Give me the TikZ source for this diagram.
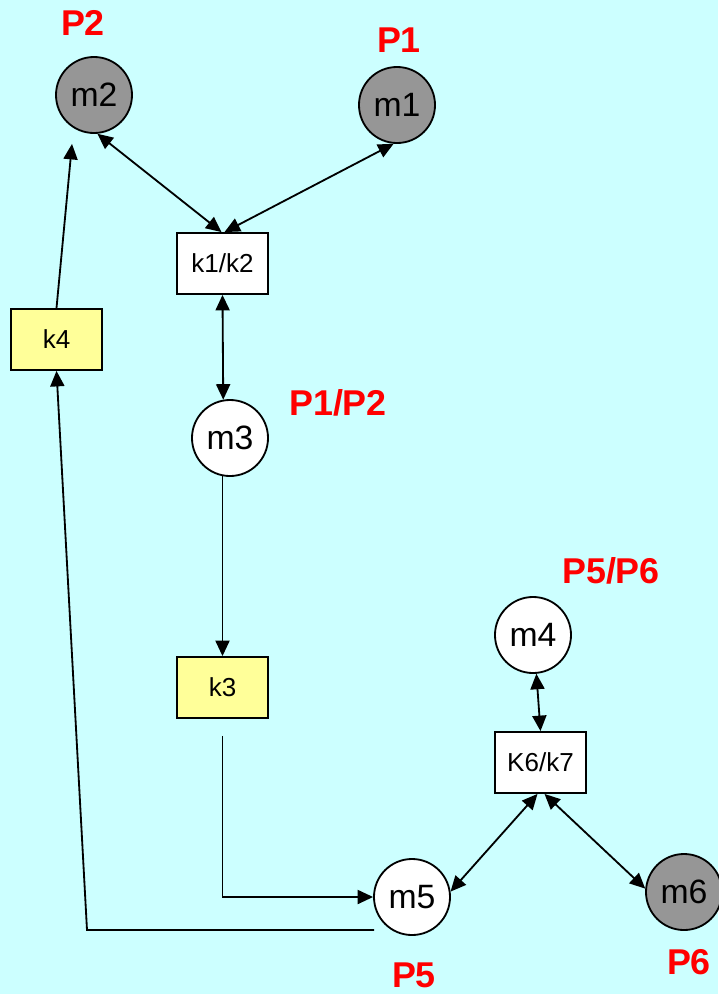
\documentclass[tikz,border=0pt]{standalone}
\usepackage{fontspec}
\setmainfont{Liberation Sans}
\usepackage[dvipsnames]{xcolor}
\usetikzlibrary{arrows.meta, calc}
\definecolor{bgcyan}{HTML}{CCFFFF}
\definecolor{placegray}{HTML}{969696}
\definecolor{boxyellow}{HTML}{FFFF99}

\begin{document}
\begin{tikzpicture}[x=0.025cm, y=-0.025cm, line width=1.3pt,
    >={Triangle[length=11pt, width=10pt]},
    place/.style={circle, draw=black, fill=white, minimum size=1.9cm, inner sep=0pt,
        font=\fontsize{24}{28}\selectfont},
    filled/.style={place, fill=placegray},
    trans/.style={rectangle, draw=black, fill=white, minimum width=2.275cm,
        minimum height=1.525cm, inner sep=0pt, font=\fontsize{18.5}{22}\selectfont},
    yellowtrans/.style={trans, fill=boxyellow},
    tag/.style={text=red, font=\fontsize{25.5}{30}\selectfont\bfseries}]
    \fill[bgcyan] (0,0) rectangle (718,994);
    \useasboundingbox (0,0) rectangle (718,994);
    \node[filled] (m2) at (94,95) {m2};
    \node[filled] (m1) at (397,105) {m1};
    \node[trans] (k12) at (222.5,263.5) {k1/k2};
    \node[yellowtrans] (k4) at (56.5,339.5) {k4};
    \node[place] (m3) at (230,438) {m3};
    \node[yellowtrans] (k3) at (222.5,687.5) {k3};
    \node[place] (m4) at (533,635) {m4};
    \node[trans] (k67) at (540.5,762.5) {K6/k7};
    \node[place] (m5) at (412,897) {m5};
    \node[filled] (m6) at (684,892) {m6};
    \node[tag] (p2) at (83,23) {P2};
    \node[tag] (p1) at (399,40) {P1};
    \node[tag] (p12) at (338,403) {P1/P2};
    \node[tag] (p56) at (611,571) {P5/P6};
    \node[tag] (p5) at (414,975) {P5};
    \node[tag] (p6) at (689,962) {P6};
    \coordinate (turn) at (87,930);
    \draw[->] (k4.north) -- ($(m2.south)+(-22,10)$);
    \draw[<->] (m2.-85) -- ($(k12.north)+(-1,0)$);
    \draw[<->] (m1.-95) -- ($(k12.north)+(2,0)$);
    \draw[<->] (k12.south) -- (m3.100);
    \draw[->] ($(k12.south |- m3.south)+(0,-1)$) -- (k3.north);
    \draw[->] ($(k3.south)+(0,17)$) |- (m5.west);
    \draw[->] ($(m5.west)+(1,33)$) -- (turn) -- (k4.south);
    \draw[<->] (m4.-85) -- (k67.north);
    \draw[<->] ($(k67.south)+(-3,0)$) -- (m5.8);
    \draw[<->] ($(k67.south)+(4,0)$) -- (m6.175);
\end{tikzpicture}
\end{document}
